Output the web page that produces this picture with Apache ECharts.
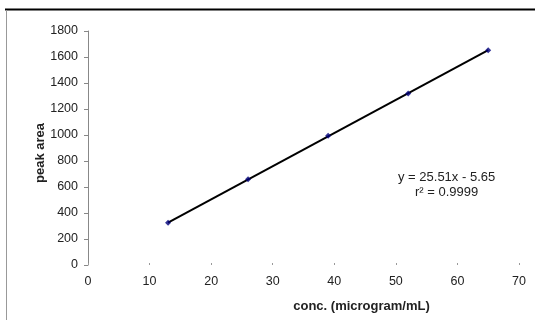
<!DOCTYPE html>
<html>
<head>
<meta charset="utf-8">
<script src="https://cdn.jsdelivr.net/npm/echarts@6/dist/echarts.min.js"></script>
<style>
html,body{margin:0;padding:0;background:#fff;}
#c{width:535px;height:320px;}
</style>
</head>
<body>
<div id="c"></div>
<script>
var conc = [13, 26, 39, 52, 65];
var peakArea = [325, 660, 995, 1320, 1652];
var trendConc = [13, 65];
var trendArea = [326, 1652];
var xTicks = [0, 10, 20, 30, 40, 50, 60, 70];
var yTicks = [0, 200, 400, 600, 800, 1000, 1200, 1400, 1600, 1800];
var yTitle = 'peak area';
var eqLine1 = 'y = 25.51x - 5.65';
var eqLine2 = 'r\u00b2 = 0.9999';

var font = '"Liberation Sans", Arial, sans-serif';
var chart = echarts.init(document.getElementById('c'), null, {renderer: 'canvas'});
chart.setOption({
  animation: false,
  backgroundColor: '#fff',
  grid: {left: 88, right: 16, top: 31, bottom: 55, containLabel: false},
  xAxis: {
    type: 'value', min: xTicks[0], max: xTicks[xTicks.length - 1], interval: 10,
    name: 'conc. (microgram/mL)', nameLocation: 'middle', nameGap: 35,
    nameTextStyle: {fontFamily: font, fontSize: 13, fontWeight: 'bold', color: '#222', padding: [0, 0, 0, 116]},
    axisLine: {show: false},
    axisTick: {show: true, length: 2, inside: true, lineStyle: {color: '#999'}},
    axisLabel: {fontFamily: font, fontSize: 12.5, color: '#222', margin: 10, formatter: function (v) { return String(v); }},
    splitLine: {show: false}
  },
  yAxis: {
    type: 'value', min: yTicks[0], max: yTicks[yTicks.length - 1], interval: 200,
    axisLine: {show: true, lineStyle: {color: '#888', width: 1}},
    axisTick: {show: true, length: 4, lineStyle: {color: '#888'}},
    axisLabel: {fontFamily: font, fontSize: 12.5, color: '#222', margin: 10, formatter: function (v) { return String(v); }},
    splitLine: {show: false}
  },
  series: [
    {
      type: 'line', z: 2,
      data: trendConc.map(function (x, i) { return [x, trendArea[i]]; }),
      showSymbol: false, symbol: 'none',
      lineStyle: {color: '#000', width: 2}
    },
    {
      type: 'scatter', z: 3,
      data: conc.map(function (x, i) { return [x, peakArea[i]]; }),
      symbol: 'diamond', symbolSize: 6,
      itemStyle: {color: '#00007a'}
    }
  ],
  graphic: [
    {type: 'line', shape: {x1: 5, y1: 9.5, x2: 535, y2: 9.5}, style: {stroke: '#000', lineWidth: 2}},
    {type: 'line', shape: {x1: 6.5, y1: 10, x2: 6.5, y2: 320}, style: {stroke: '#999', lineWidth: 1}},
    {type: 'text', x: 40, y: 153, rotation: Math.PI / 2,
     style: {text: yTitle, font: 'bold 13px ' + font, fill: '#222', textAlign: 'center', textVerticalAlign: 'middle'}},
    {type: 'text', left: 398, top: 171, style: {text: eqLine1, font: '13px ' + font, fill: '#222'}},
    {type: 'text', left: 415, top: 186, style: {text: eqLine2, font: '13px ' + font, fill: '#222'}}
  ]
});
</script>
</body>
</html>
